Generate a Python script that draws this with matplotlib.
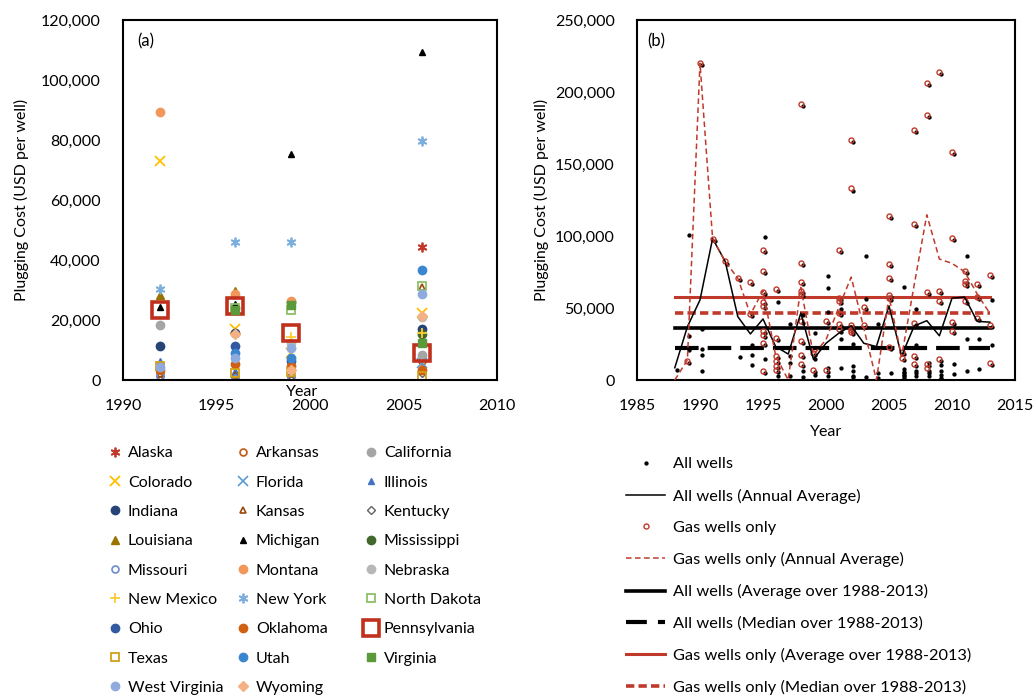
import numpy as np
import matplotlib
matplotlib.use("Agg")
import matplotlib.pyplot as plt
from matplotlib.lines import Line2D
from matplotlib.ticker import FuncFormatter, MultipleLocator
from matplotlib.transforms import ScaledTranslation

plt.rcParams['font.family'] = ['Lato', 'DejaVu Sans']
plt.rcParams['lines.scale_dashes'] = False

nan = np.nan

# ---- panel (a): state plugging cost surveys
survey_years = [1992, 1996, 1999, 2006]
states = ['Alaska', 'Arkansas', 'California', 'Colorado', 'Florida', 'Illinois',
          'Indiana', 'Kansas', 'Kentucky', 'Louisiana', 'Michigan', 'Mississippi',
          'Missouri', 'Montana', 'Nebraska', 'New Mexico', 'New York', 'North Dakota',
          'Ohio', 'Oklahoma', 'Pennsylvania', 'Texas', 'Utah', 'Virginia',
          'West Virginia', 'Wyoming']
cost_1992 = [nan, 2500, 18200, 73000, nan, 6300, 11400, 2000, 1200, 28200, 24400, nan,
             1300, 89300, nan, nan, 30300, nan, nan, 3500, 23500, 4800, nan, nan, 4300, nan]
cost_1996 = [nan, 1000, 24000, 16900, nan, 3000, 15800, 1800, 1000, 29600, 25300, nan,
             600, 28800, nan, nan, 45900, 24000, 11300, 5200, 24600, 2400, 9000, 23500, 7500, 15200]
cost_1999 = [nan, nan, nan, 9100, nan, nan, nan, 2000, 1500, nan, 75200, 26000,
             700, 26500, 12400, 14500, 45900, 23300, 6300, 4700, 15700, 2700, 7400, 25000, 10800, 3500]
cost_2006 = [44200, 6300, 8500, 22400, 5800, nan, 17100, 31000, 2500, nan, 109200, 15300,
             nan, nan, 21000, 15700, 79700, 31500, nan, 3500, 9100, 1300, 36600, 12500, 28800, 21500]

# ---- panel (b): individual wells and annual averages
avg_years = list(range(1988, 2014))
all_avg = [8500, 37000, 55600, 98200, 82300, 44000, 32000, 42400, 23300, 18000, 46500, 14400,
           25500, 32400, 37700, 25500, 23200, 51500, 16700, 37500, 41200, 30700, 56800, 57600,
           40700, 40200]
gas_avg = [0, 13900, 220000, 98200, 82300, 70700, 45500, 62000, 17000, 0, 64300, 17400,
           28000, 50000, 71500, 36000, 0, 58000, 16300, 66000, 114700, 84000, 81000, 75200,
           59700, 46300]
gas_by_year = [
    [], [13000], [220000], [98200], [82300], [70600], [67800, 45800],
    [90000, 76000, 61000, 54500, 51500, 34000, 31500, 26000, 6500],
    [63300, 29300, 16600, 13200, 9700, 6900], [],
    [191700, 81300, 67900, 61700, 60000, 40900, 27000, 17300, 10900],
    [19000, 7000], [41000, 7000],
    [90000, 57000, 54700, 46700, 38600, 35100],
    [167000, 133000, 38000, 36000, 35000, 33500],
    [50500, 38000], [],
    [114000, 80600, 70600, 59000, 57000, 22700],
    [19500, 15500],
    [173700, 108300, 39700, 17000, 11000],
    [206500, 184000, 61000, 10900, 8000],
    [214000, 62000, 55000, 14300],
    [158500, 98400, 40500, 34000],
    [76000, 69000, 66500, 55000],
    [66400, 57400, 42800],
    [73000, 38000, 11600],
]
other_by_year = [
    [8500], [102000, 32000, 22000], [37000, 23000, 19000, 8000], [], [], [17400],
    [25500, 19000, 12000], [100500, 16000], [55500, 4000], [40500, 18200, 13000, 4000],
    [46500, 8000, 3500], [34000, 16000, 5000], [74000, 65000, 49000, 10000, 4000],
    [51000, 30000, 9700], [26500, 11000, 8000, 4000, 3500], [87500, 58000, 3500],
    [40500, 6000, 3000], [6500], [66000, 9000, 7000, 6000, 5000, 4000, 3000],
    [50500, 26000, 8000, 6000, 4000], [13000, 6000, 4000], [12000, 8000, 5000, 3000, 2000],
    [12500, 5800], [87500, 30000, 8000], [29600, 9300], [56700, 25900],
]
all_mean, all_median = 36300, 22200
gas_mean, gas_median = 57500, 46200

RED = '#C0392B'
state_style = {
    'Alaska': dict(marker=(6, 2, 0), color='#C0392B', ms=7, mew=1.3),
    'Arkansas': dict(marker='o', color='#C55A11', ms=5, mfc='none', mew=1.2),
    'California': dict(marker='o', color='#A5A5A5', ms=6),
    'Colorado': dict(marker='x', color='#FFC000', ms=6.5, mew=1.3),
    'Florida': dict(marker='x', color='#5B9BD5', ms=6.5, mew=1.2),
    'Illinois': dict(marker='^', color='#4472C4', ms=5),
    'Indiana': dict(marker='o', color='#264478', ms=6),
    'Kansas': dict(marker='^', color='#9E480E', ms=5, mfc='none', mew=1.2),
    'Kentucky': dict(marker='D', color='#636363', ms=4, mfc='none', mew=1.0),
    'Louisiana': dict(marker='^', color='#997300', ms=6),
    'Michigan': dict(marker='^', color='black', ms=5),
    'Mississippi': dict(marker='o', color='#43682B', ms=6),
    'Missouri': dict(marker='o', color='#698ED0', ms=5, mfc='none', mew=1.2),
    'Montana': dict(marker='o', color='#F1975A', ms=6),
    'Nebraska': dict(marker='o', color='#B7B7B7', ms=6),
    'New Mexico': dict(marker='+', color='#FFCD33', ms=7, mew=1.3),
    'New York': dict(marker=(6, 2, 0), color='#7CAFDD', ms=7, mew=1.3),
    'North Dakota': dict(marker='s', color='#8CC168', ms=5.5, mfc='none', mew=1.3),
    'Ohio': dict(marker='o', color='#335AA1', ms=6),
    'Oklahoma': dict(marker='o', color='#D26012', ms=6),
    'Pennsylvania': dict(marker='s', color='#C0311D', ms=11.5, mfc='none', mew=2.6),
    'Texas': dict(marker='s', color='#D4A017', ms=5.5, mfc='none', mew=1.3),
    'Utah': dict(marker='o', color='#3A87D0', ms=6),
    'Virginia': dict(marker='s', color='#5A9A3A', ms=5.5),
    'West Virginia': dict(marker='o', color='#8FAADC', ms=6),
    'Wyoming': dict(marker='D', color='#F4B183', ms=5),
}

fig = plt.figure(figsize=(10.35, 6.97), dpi=100)
W, H = 1035, 697
ax1 = fig.add_axes([123 / W, 1 - 380 / H, 374 / W, 360 / H])
ax2 = fig.add_axes([637 / W, 1 - 380 / H, 378 / W, 360 / H])

comma = FuncFormatter(lambda v, p: f'{v:,.0f}')
FS = 11.5


def style_axes(ax):
    for s in ax.spines.values():
        s.set_linewidth(1.5)
        s.set_color('black')
    ax.tick_params(length=0, labelsize=FS)
    ax.tick_params(axis='x', pad=14)
    ax.tick_params(axis='y', pad=16)
    ax.yaxis.set_major_formatter(comma)


# ---- draw panel (a)
costs = np.array([cost_1992, cost_1996, cost_1999, cost_2006])
handles = []
for i, st in enumerate(states):
    kw = dict(state_style[st])
    col = kw.pop('color')
    kw.setdefault('mfc', col)
    h, = ax1.plot(survey_years, costs[:, i], ls='none', mec=col, label=st, **kw)
    handles.append(h)
ax1.set_xlim(1990, 2010)
ax1.set_ylim(0, 120000)
ax1.xaxis.set_major_locator(MultipleLocator(5))
ax1.yaxis.set_major_locator(MultipleLocator(20000))
style_axes(ax1)
ax1.set_ylabel('Plugging Cost (USD per well)', fontsize=FS)
ax1.yaxis.set_label_coords(-0.25, 0.5)
ax1.set_xlabel('Year', fontsize=FS)
ax1.xaxis.label.set_va('center')
ax1.xaxis.set_label_coords(0.479, -0.033)
ax1.text(0.037, 0.94, '(a)', transform=ax1.transAxes, fontsize=FS + 0.5, va='center')

# legend in three columns, filled row by row
col_x = [108.6, 236.6, 364.6]
for c in range(3):
    fig.legend(handles=handles[c::3], loc='upper left',
               bbox_to_anchor=(col_x[c] / W, 1 - 446 / H), frameon=False,
               fontsize=FS, borderpad=0, borderaxespad=0, handlelength=0.8,
               handletextpad=0.4, labelspacing=0.95, numpoints=1)

# ---- draw panel (b)
x0, x1 = avg_years[0], avg_years[-1]
dot_shift = ax2.transData + ScaledTranslation(1.5 / 72, -1.5 / 72, fig.dpi_scale_trans)
for yr, gas, other in zip(avg_years, gas_by_year, other_by_year):
    vals = gas + other
    ax2.plot([yr] * len(vals), vals, ls='none', marker='o', ms=2.1, color='black',
             zorder=3, transform=dot_shift)
for yr, gas in zip(avg_years, gas_by_year):
    ax2.plot([yr] * len(gas), gas, ls='none', marker='o', ms=3.6, mfc='none',
             mec=RED, mew=1.0, zorder=4)
ax2.plot(avg_years, all_avg, color='black', lw=1.1, zorder=5)
ax2.plot(avg_years, gas_avg, color=RED, lw=1.1, dashes=(4, 2.5), zorder=5)
ax2.plot([x0, x1], [all_mean, all_mean], color='black', lw=2.6, zorder=2)
ax2.plot([x0, x1], [all_median, all_median], color='black', lw=3, dashes=(17, 6.5), zorder=2)
ax2.plot([x0, x1], [gas_mean, gas_mean], color=RED, lw=2.2, zorder=2)
ax2.plot([x0, x1], [gas_median, gas_median], color=RED, lw=2.6, dashes=(6, 3), zorder=2)
ax2.set_xlim(1985, 2015)
ax2.set_ylim(0, 250000)
ax2.xaxis.set_major_locator(MultipleLocator(5))
ax2.yaxis.set_major_locator(MultipleLocator(50000))
style_axes(ax2)
ax2.set_ylabel('Plugging Cost (USD per well)', fontsize=FS)
ax2.yaxis.set_label_coords(-0.233, 0.5)
ax2.set_xlabel('Year', fontsize=FS)
ax2.xaxis.label.set_va('center')
ax2.xaxis.set_label_coords(0.5, -0.144)
ax2.text(0.026, 0.94, '(b)', transform=ax2.transAxes, fontsize=FS + 0.5, va='center')

leg_handles = [
    Line2D([], [], ls='none', marker='o', ms=2.1, color='black'),
    Line2D([], [], color='black', lw=1.1),
    Line2D([], [], ls='none', marker='o', ms=3.6, mfc='none', mec=RED, mew=1.0),
    Line2D([], [], color=RED, lw=1.1, dashes=(4, 2.5)),
    Line2D([], [], color='black', lw=2.6),
    Line2D([], [], color='black', lw=3, dashes=(15, 8)),
    Line2D([], [], color=RED, lw=2.2),
    Line2D([], [], color=RED, lw=2.6, dashes=(6, 3)),
]
leg_labels = ['All wells', 'All wells (Annual Average)', 'Gas wells only',
              'Gas wells only (Annual Average)', 'All wells (Average over 1988-2013)',
              'All wells (Median over 1988-2013)', 'Gas wells only (Average over 1988-2013)',
              'Gas wells only (Median over 1988-2013)']
fig.legend(leg_handles, leg_labels, loc='upper left', bbox_to_anchor=(626 / W, 1 - 457 / H),
           frameon=False, fontsize=FS + 0.3, borderpad=0, borderaxespad=0, handlelength=2.4,
           handletextpad=0.44, labelspacing=1.04, numpoints=1)

fig.savefig('out.png', dpi=100)
